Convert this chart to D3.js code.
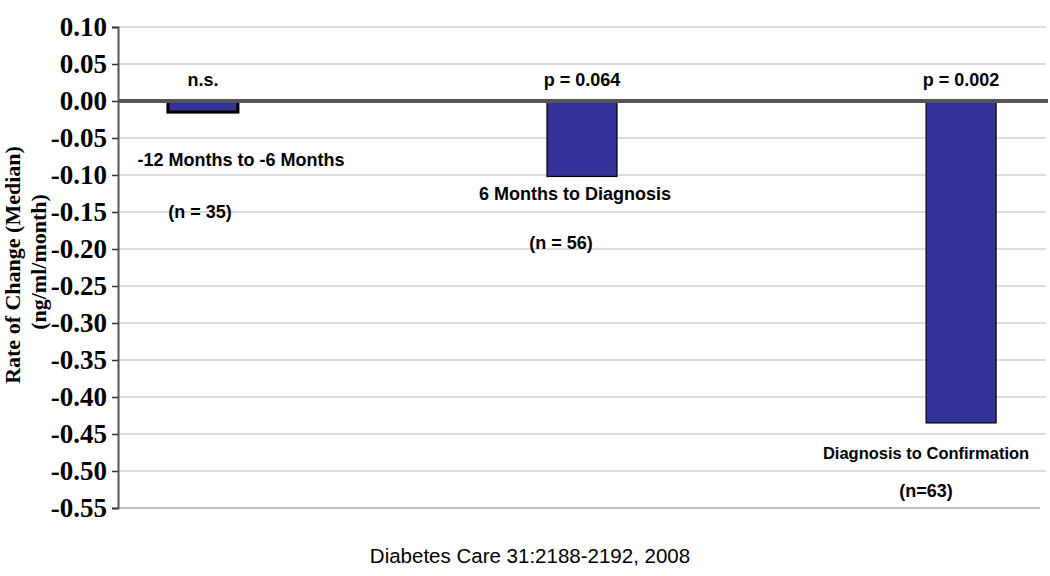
<!DOCTYPE html>
<html><head><meta charset="utf-8">
<script src="https://cdn.jsdelivr.net/npm/d3@7"></script>
<style>body{margin:0;background:#fff}svg{display:block}</style>
</head><body>
<svg id="c" width="1050" height="576"></svg>
<script>
const categories = ["-12 Months to -6 Months", "6 Months to Diagnosis", "Diagnosis to Confirmation"];
const values = [-0.015, -0.102, -0.435];
const pLabels = ["n.s.", "p = 0.064", "p = 0.002"];
const nLabels = ["(n = 35)", "(n = 56)", "(n=63)"];
const yTicks = [0.10, 0.05, 0.00, -0.05, -0.10, -0.15, -0.20, -0.25, -0.30, -0.35, -0.40, -0.45, -0.50, -0.55];

const svg = d3.select("#c");
const L = 118, R = 1046, T = 27, B = 508;
const y = d3.scaleLinear().domain([-0.55, 0.10]).range([B, T]);
const x = d3.scalePoint().domain(categories).range([L, R]).padding(0.224);
const bw = 70;

// gridlines
svg.append("g").selectAll("line").data(yTicks.filter(d => d !== 0 && d !== -0.55)).join("line")
  .attr("x1", L).attr("x2", R).attr("y1", d => y(d)).attr("y2", d => y(d))
  .attr("stroke", "#d0d0d0").attr("stroke-width", 1.5);
svg.append("line").attr("x1", L).attr("x2", R - 6).attr("y1", y(-0.55)).attr("y2", y(-0.55))
  .attr("stroke", "#aaa").attr("stroke-width", 1.5);

// y axis
const fmt = d => d3.format(".2f")(d).replace("\u2212", "-");
const yAxis = d3.axisLeft(y).tickValues(yTicks).tickSize(6).tickPadding(5).tickFormat(fmt);
const ga = svg.append("g").attr("transform", `translate(${L},0)`).call(yAxis);
ga.select(".domain").attr("stroke", "#555").attr("stroke-width", 2);
ga.selectAll(".tick line").attr("stroke", "#333").attr("stroke-width", 1.5);
ga.selectAll(".tick text").attr("font-family", "Liberation Serif, Times New Roman, serif")
  .attr("font-weight", "bold").attr("font-size", 27).attr("fill", "#000").attr("dy", "0.33em");

// bars
svg.append("g").selectAll("rect").data(values).join("rect")
  .attr("x", (d, i) => x(categories[i]) - bw / 2).attr("width", bw)
  .attr("y", y(0)).attr("height", d => y(d) - y(0))
  .attr("fill", "#333399").attr("stroke", "#000").attr("stroke-width", 1.2);
// thicker outline on the small first bar
svg.append("rect").attr("x", x(categories[0]) - bw / 2).attr("width", bw)
  .attr("y", y(0)).attr("height", y(values[0]) - y(0))
  .attr("fill", "none").attr("stroke", "#000").attr("stroke-width", 3);

// zero line
svg.append("line").attr("x1", L).attr("x2", R + 2).attr("y1", y(0)).attr("y2", y(0))
  .attr("stroke", "#555").attr("stroke-width", 4);

const af = "Liberation Sans, Arial, Helvetica, sans-serif";
// p labels
svg.append("g").selectAll("text").data(pLabels).join("text")
  .attr("x", (d, i) => x(categories[i])).attr("y", 86).attr("text-anchor", "middle")
  .attr("font-family", af).attr("font-weight", "bold").attr("font-size", 18).text(d => d);

// category labels & n labels
const catPos = [[241, 166], [575, 200], [926, 459]];
const catSize = [18, 18, 16.5];
const nPos = [[200, 218], [561, 249], [926, 497]];
svg.append("g").selectAll("text").data(categories).join("text")
  .attr("x", (d, i) => catPos[i][0]).attr("y", (d, i) => catPos[i][1]).attr("text-anchor", "middle")
  .attr("font-family", af).attr("font-weight", "bold").attr("font-size", (d, i) => catSize[i]).text(d => d);
svg.append("g").selectAll("text").data(nLabels).join("text")
  .attr("x", (d, i) => nPos[i][0]).attr("y", (d, i) => nPos[i][1]).attr("text-anchor", "middle")
  .attr("font-family", af).attr("font-weight", "bold").attr("font-size", 18).text(d => d);

// y title
const tf = "Liberation Serif, Times New Roman, serif";
svg.append("text").attr("transform", "translate(20,265) rotate(-90)").attr("text-anchor", "middle")
  .attr("font-family", tf).attr("font-weight", "bold").attr("font-size", 22).text("Rate of Change (Median)");
svg.append("text").attr("transform", "translate(46,262) rotate(-90)").attr("text-anchor", "middle")
  .attr("font-family", tf).attr("font-weight", "bold").attr("font-size", 22).text("(ng/ml/month)");

// footer
svg.append("text").attr("x", 530).attr("y", 563).attr("text-anchor", "middle")
  .attr("font-family", af).attr("font-size", 20.5).text("Diabetes Care 31:2188-2192, 2008");
</script>
</body></html>
